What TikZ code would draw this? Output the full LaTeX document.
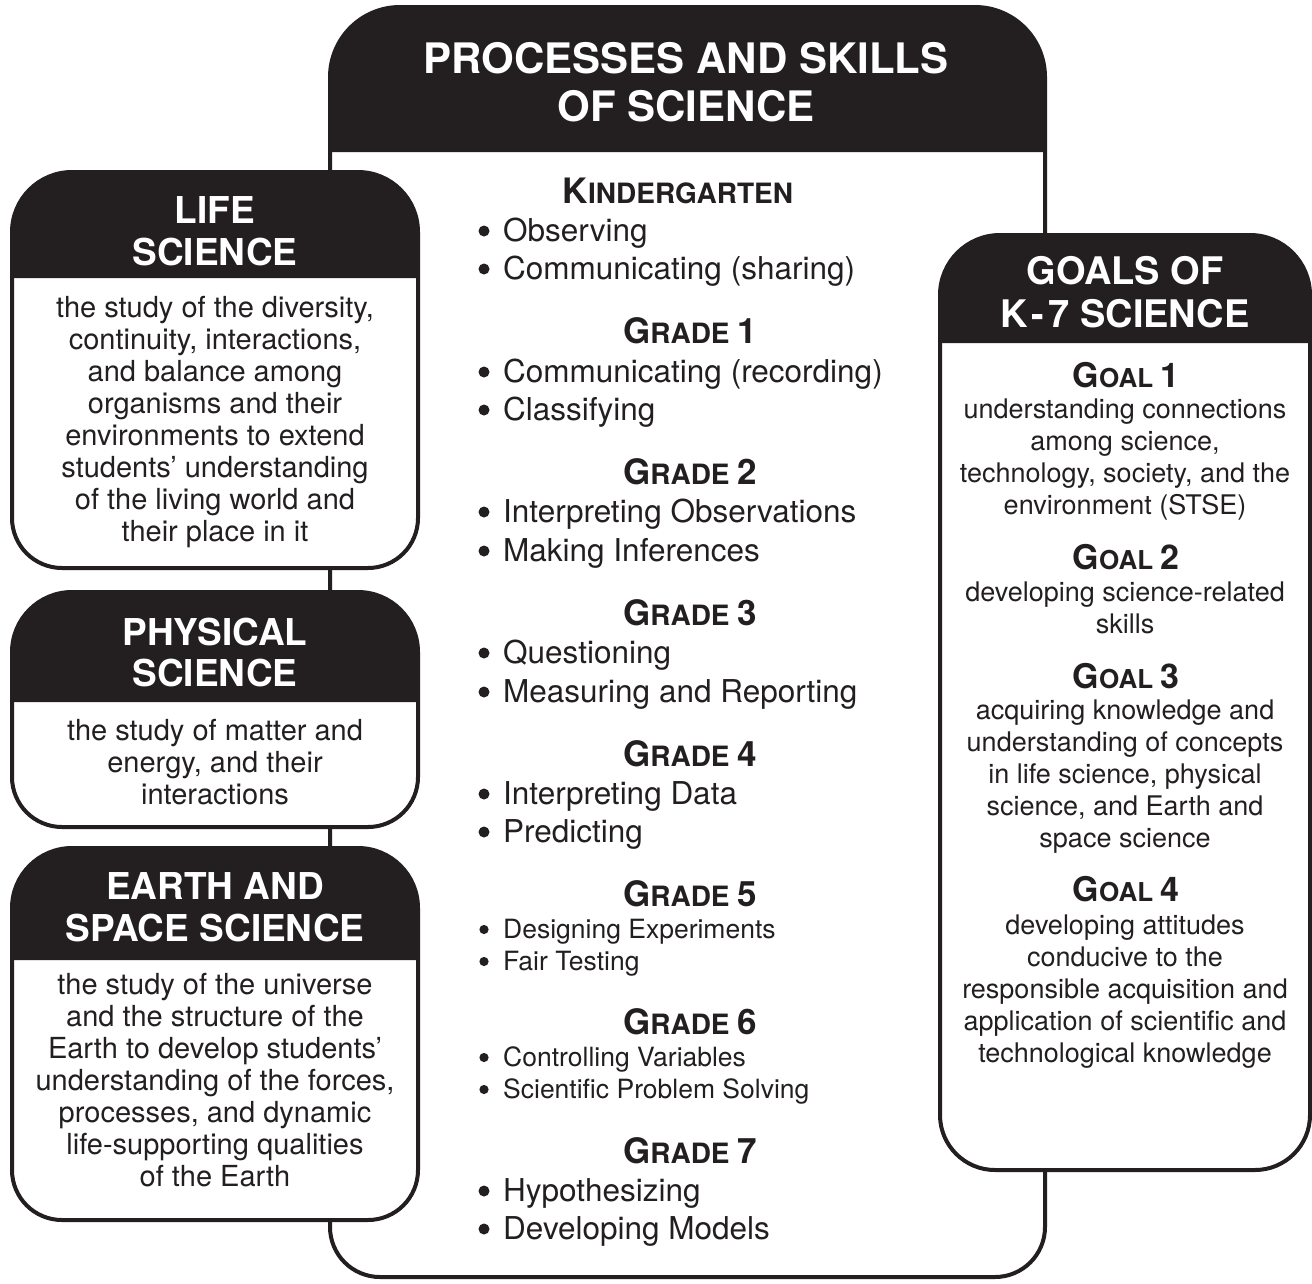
\documentclass[tikz,border=0pt]{standalone}
\usepackage{fontspec}
\setmainfont{TeX Gyre Heros}
\definecolor{ink}{RGB}{35,31,32}
\newcommand\fsz[1]{\fontsize{#1}{#1}\selectfont}
% small-caps heading: #1 big size, #2 small size, #3 first, #4 rest, #5 tail
\newcommand\scapx[5]{{\fsz{#1}#3}{\fsz{#2}#4}{\fsz{#1}#5}}
% panel: #1 l, #2 t, #3 r, #4 b, #5 header bottom, #6 top radius, #7 bottom radius
\newcommand\panel[7]{%
  \fill[white] (#1,-#4+#7) -- (#1,-#2-#6) arc[start angle=180,end angle=90,radius=#6]
    -- (#3-#6,-#2) arc[start angle=90,end angle=0,radius=#6]
    -- (#3,-#4+#7) arc[start angle=0,end angle=-90,radius=#7]
    -- (#1+#7,-#4) arc[start angle=270,end angle=180,radius=#7] -- cycle;
  \fill[ink] (#1,-#5) -- (#1,-#2-#6) arc[start angle=180,end angle=90,radius=#6]
    -- (#3-#6,-#2) arc[start angle=90,end angle=0,radius=#6]
    -- (#3,-#5) -- cycle;
  \draw[boxline] (#1,-#4+#7) -- (#1,-#2-#6) arc[start angle=180,end angle=90,radius=#6]
    -- (#3-#6,-#2) arc[start angle=90,end angle=0,radius=#6]
    -- (#3,-#4+#7) arc[start angle=0,end angle=-90,radius=#7]
    -- (#1+#7,-#4) arc[start angle=270,end angle=180,radius=#7] -- cycle;
}
\tikzset{
  boxline/.style={draw=ink, line width=4pt, line join=round},
  hdr/.style={text=white, font=\bfseries\fsz{37}, anchor=base, inner sep=0pt},
  body/.style={text=ink, font=\fsz{29}, anchor=base, inner sep=0pt},
  gbody/.style={text=ink, font=\fsz{27}, anchor=base, inner sep=0pt},
  item/.style={text=ink, font=\fsz{31.5}, anchor=base west, inner sep=0pt},
  smallitem/.style={text=ink, font=\fsz{26.5}, anchor=base west, inner sep=0pt},
  grade/.style={text=ink, font=\bfseries, anchor=base, inner sep=0pt},
  dot/.style={fill=ink},
}
\begin{document}
\begin{tikzpicture}[x=1pt,y=1pt]
\useasboundingbox (0,0) rectangle (1312,-1283);
\fill[white] (0,0) rectangle (1312,-1283);

% panels
\panel{330}{7}{1045}{1277}{152}{70}{50}
\panel{12}{172}{418}{568}{278}{60}{50}
\panel{12}{592}{418}{827}{702}{60}{50}
\panel{12}{848}{418}{1220}{960}{60}{50}
\panel{940}{235}{1310}{1170}{343}{60}{55}

% centre header
\node[hdr, font=\bfseries\fsz{42}] (ph1) at (686,-73) {PROCESSES AND SKILLS};
\node[hdr, font=\bfseries\fsz{42}] (ph2) at (686,-121) {OF SCIENCE};

% centre contents
\node[grade] (gk) at (678,-203) {\scapx{35}{28}{K}{INDERGARTEN}{}};
\node[item] (k1) at (503,-241) {Observing};
\node[item] (k2) at (503,-279) {Communicating (sharing)};
\node[grade] (g1) at (690,-343) {\scapx{35}{28}{G}{RADE }{1}};
\node[item] (g1a) at (503,-382) {Communicating (recording)};
\node[item] (g1b) at (503,-420) {Classifying};
\node[grade] (g2) at (690,-484) {\scapx{35}{28}{G}{RADE }{2}};
\node[item] (g2a) at (503,-522) {Interpreting Observations};
\node[item] (g2b) at (503,-561) {Making Inferences};
\node[grade] (g3) at (690,-625) {\scapx{35}{28}{G}{RADE }{3}};
\node[item] (g3a) at (503,-663) {Questioning};
\node[item] (g3b) at (503,-702) {Measuring and Reporting};
\node[grade] (g4) at (690,-766) {\scapx{35}{28}{G}{RADE }{4}};
\node[item] (g4a) at (503,-804) {Interpreting Data};
\node[item] (g4b) at (503,-842) {Predicting};
\node[grade] (g5) at (690,-906) {\scapx{35}{28}{G}{RADE }{5}};
\node[smallitem] (g5a) at (503,-938) {Designing Experiments};
\node[smallitem] (g5b) at (503,-970) {Fair Testing};
\node[grade] (g6) at (690,-1034) {\scapx{35}{28}{G}{RADE }{6}};
\node[smallitem] (g6a) at (503,-1066) {Controlling Variables};
\node[smallitem] (g6b) at (503,-1098) {Scientific Problem Solving};
\node[grade] (g7) at (690,-1163) {\scapx{35}{28}{G}{RADE }{7}};
\node[item] (g7a) at (503,-1201) {Hypothesizing};
\node[item] (g7b) at (503,-1239) {Developing Models};

% bullets
\foreach \n in {k1,k2,g1a,g1b,g2a,g2b,g3a,g3b,g4a,g4b,g7a,g7b}
  \fill[dot] ([xshift=-19pt,yshift=10pt]\n.base west) circle[radius=5.5pt];
\foreach \n in {g5a,g5b,g6a,g6b}
  \fill[dot] ([xshift=-19pt,yshift=8.5pt]\n.base west) circle[radius=4.6pt];

% life science
\node[hdr] (lh1) at (215,-223) {LIFE};
\node[hdr] (lh2) at (215,-265) {SCIENCE};
\foreach \t [count=\i] in {{the study of the diversity,},{continuity, interactions,},{and balance among},{organisms and their},{environments to extend},{students’ understanding},{of the living world and},{their place in it}}
  \node[body] (life\i) at (215,{-317-32*(\i-1)}) {\t};

% physical science
\node[hdr] (ph1l) at (215,-645) {PHYSICAL};
\node[hdr] (ph2l) at (215,-686) {SCIENCE};
\foreach \t [count=\i] in {{the study of matter and},{energy, and their},{interactions}}
  \node[body] (phys\i) at (215,{-740-32*(\i-1)}) {\t};

% earth and space science
\node[hdr] (eh1) at (215,-899) {EARTH AND};
\node[hdr] (eh2) at (215,-941) {SPACE SCIENCE};
\foreach \t [count=\i] in {{the study of the universe},{and the structure of the},{Earth to develop students’},{understanding of the forces,},{processes, and dynamic},{life-supporting qualities},{of the Earth}}
  \node[body] (earth\i) at (215,{-994-32*(\i-1)}) {\t};

% goals
\node[hdr, font=\bfseries\fsz{38}] (gh1) at (1125,-284) {GOALS OF};
\node[hdr, font=\bfseries\fsz{38}] (gh2) at (1125,-327) {K\kern4pt-\kern4pt7 SCIENCE};
\node[grade] (goal1) at (1126,-387) {\scapx{34}{26}{G}{OAL }{1}};
\foreach \t [count=\i] in {{understanding connections},{among science,},{technology, society, and the},{environment (STSE)}}
  \node[gbody] (ga\i) at (1125,{-418-32*(\i-1)}) {\t};
\node[grade] (goal2) at (1126,-569) {\scapx{34}{26}{G}{OAL }{2}};
\foreach \t [count=\i] in {{developing science-related},{skills}}
  \node[gbody] (gb\i) at (1125,{-601-32*(\i-1)}) {\t};
\node[grade] (goal3) at (1126,-688) {\scapx{34}{26}{G}{OAL }{3}};
\foreach \t [count=\i] in {{acquiring knowledge and},{understanding of concepts},{in life science, physical},{science, and Earth and},{space science}}
  \node[gbody] (gc\i) at (1125,{-719-32*(\i-1)}) {\t};
\node[grade] (goal4) at (1126,-901) {\scapx{34}{26}{G}{OAL }{4}};
\foreach \t [count=\i] in {{developing attitudes},{conducive to the},{responsible acquisition and},{application of scientific and},{technological knowledge}}
  \node[gbody] (gd\i) at (1125,{-934-32*(\i-1)}) {\t};
\end{tikzpicture}
\end{document}
